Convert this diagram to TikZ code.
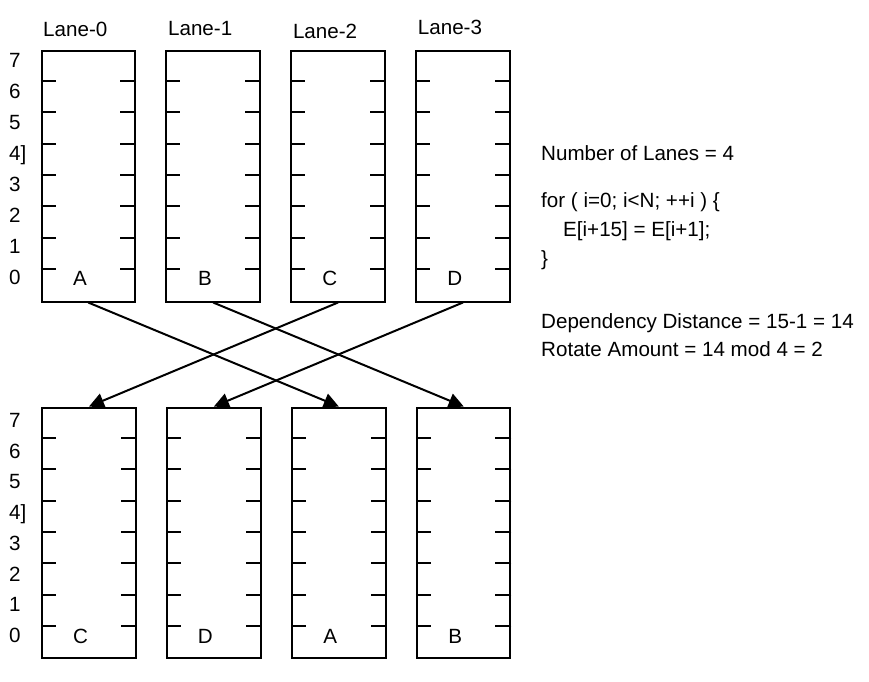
\documentclass[tikz,border=0pt]{standalone}
\usepackage{fontspec}
\setmainfont{Liberation Sans}
\usetikzlibrary{arrows.meta}

\newcommand{\lanegap}{124.9}
\newcommand{\laneslot}{31.375}

\tikzset{
	lanebox/.style={draw, line width=2pt, minimum width=93.5pt, minimum height=251pt, inner sep=0pt},
	lanetick/.style={line width=2pt},
	lbl/.style={font=\fontsize{20.6}{24}\selectfont, inner sep=0pt},
	flow/.style={line width=2pt, -{Triangle[length=15pt,width=15pt]}}
}

\begin{document}
\begin{tikzpicture}[x=1pt,y=-1pt]
	\useasboundingbox (0,0) rectangle (869,681);
	%upper lanes
	\foreach \i/\ltr/\ly in {0/A/36.5,1/B/35,2/C/38.5,3/D/34}{
		\node[lanebox] (t\i) at ({88.25+\lanegap*\i},176) {};
		\node[lbl, anchor=base west] (lane\i) at ({43+\lanegap*\i},\ly) {Lane-\i};
		\node[lbl, anchor=base] (tl\i) at ({80+\lanegap*\i},285) {\ltr};
		\foreach \k in {1,...,7}{
			\draw[lanetick] ([yshift=-\k*\laneslot*1pt]t\i.north west) -- ++(15,0);
			\draw[lanetick] ([yshift=-\k*\laneslot*1pt]t\i.north east) -- ++(-16,0);
		}
	}
	%lower lanes, rotated by two
	\foreach \i/\ltr in {0/C,1/D,2/A,3/B}{
		\node[lanebox, minimum height=250.5pt] (b\i) at ({89+\lanegap*\i},532.75) {};
		\node[lbl, anchor=base] (bl\i) at ({80.5+\lanegap*\i},643) {\ltr};
		\foreach \k in {1,...,7}{
			\draw[lanetick] ([yshift=-\k*\laneslot*1pt]b\i.north west) -- ++(15,0);
			\draw[lanetick] ([yshift=-\k*\laneslot*1pt]b\i.north east) -- ++(-16,0);
		}
	}
	%element numbers
	\foreach \r/\t in {0/0,1/1,2/2,3/3,4/4],5/5,6/6,7/7}{
		\node[lbl, anchor=base west] (rowt\r) at (9,{284.4-31*\r}) {\t};
		\node[lbl, anchor=base west] (rowb\r) at (9,{642.4-30.7*\r}) {\t};
	}

	%rotation
	\draw[flow] (t0.south) -- (b2.north);
	\draw[flow] (t1.south) -- (b3.north);
	\draw[flow] (t2.south) -- (b0.north);
	\draw[flow] (t3.south) -- (b1.north);

	%notes
	\node[lbl, anchor=base west] (lanes) at (541,160.7) {Number of Lanes = 4};
	\node[lbl, anchor=base west] (loop) at (541,207.5) {for ( i=0; i<N; ++i ) \{};
	\node[lbl, anchor=base west] (body) at (563,236.5) {E[i+15] = E[i+1];};
	\node[lbl, anchor=base west] (close) at (541,265) {\}};
	\node[lbl, anchor=base west] (dist) at (541,328) {Dependency Distance = 15-1 = 14};
	\node[lbl, anchor=base west] (rot) at (541,356) {Rotate Amount = 14 mod 4 = 2};
\end{tikzpicture}
\end{document}
